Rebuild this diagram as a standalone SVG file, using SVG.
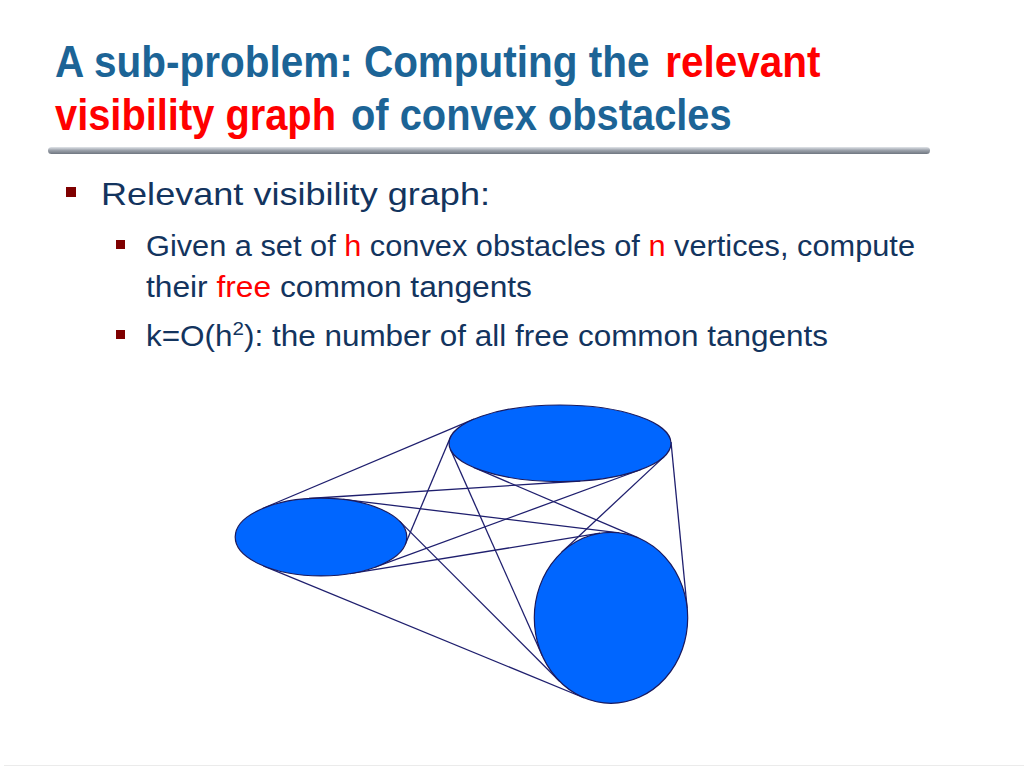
<svg xmlns="http://www.w3.org/2000/svg" width="1024" height="768" viewBox="0 0 1024 768">
<defs>
<linearGradient id="bar" x1="0" y1="0" x2="0" y2="1">
<stop offset="0" stop-color="#e2e5ea"/>
<stop offset="0.45" stop-color="#9ea4ad"/>
<stop offset="1" stop-color="#6f7680"/>
</linearGradient>
<style>
.title{font-family:"Liberation Sans",Arial,sans-serif;font-weight:bold;font-size:45px;fill:#1c6496}
.red{fill:#ff0000}
.body{font-family:"Liberation Sans",Arial,sans-serif;fill:#13345e}
.b1{font-size:32px}
.b2{font-size:29px}
.bul{fill:#7f0000}
.obst{fill:#0066ff;stroke:#1a1a5e;stroke-width:1.2}
.tan{stroke:#1f1f6e;stroke-width:1.3;fill:none}
</style>
</defs>
<rect width="1024" height="768" fill="#ffffff"/>
<g id="title">
<g transform="translate(55,77) scale(0.9,1)">
<text class="title" x="0" y="0">A sub-problem: Computing the</text>
<text class="title red" x="678" y="0">relevant</text>
</g>
<g transform="translate(55,130) scale(0.885,1)">
<text class="title red" x="0" y="0">visibility graph</text>
<text class="title" x="334.5" y="0">of convex obstacles</text>
</g>
</g>
<rect x="48" y="147" width="882" height="7" rx="3.5" fill="url(#bar)"/>
<g id="bullets">
<rect class="bul" x="66" y="187" width="10" height="10"/>
<text class="body b1" x="101" y="205" textLength="389" lengthAdjust="spacingAndGlyphs">Relevant visibility graph:</text>
<rect class="bul" x="116" y="240" width="9" height="9"/>
<text class="body b2" x="146" y="256" textLength="769" lengthAdjust="spacingAndGlyphs">Given a set of <tspan class="red">h</tspan> convex obstacles of <tspan class="red">n</tspan> vertices, compute</text>
<text class="body b2" x="146" y="297" textLength="386" lengthAdjust="spacingAndGlyphs">their <tspan class="red">free</tspan> common tangents</text>
<rect class="bul" x="116" y="330" width="9" height="9"/>
<text class="body b2" x="146" y="346" textLength="682" lengthAdjust="spacingAndGlyphs">k=O(h<tspan font-size="19" dy="-11">2</tspan><tspan dy="11">): the number of all free common tangents</tspan></text>
</g>
<g id="connectors">
<line class="tan" x1="262.5" y1="508.5" x2="474" y2="419.1"/>
<line class="tan" x1="405.3" y1="544.3" x2="450.2" y2="437.8"/>
<line class="tan" x1="309" y1="498.5" x2="580.3" y2="481"/>
<line class="tan" x1="375.1" y1="567.2" x2="641" y2="469.5"/>
<line class="tan" x1="343.1" y1="499.4" x2="619.3" y2="532.8"/>
<line class="tan" x1="263.3" y1="565.8" x2="584.4" y2="698"/>
<line class="tan" x1="399.2" y1="520.9" x2="559.8" y2="681.5"/>
<line class="tan" x1="349.9" y1="573.6" x2="600" y2="533.2"/>
<line class="tan" x1="671" y1="442" x2="687.2" y2="608.5"/>
<line class="tan" x1="450.3" y1="449.1" x2="542.3" y2="655.8"/>
<line class="tan" x1="473.7" y1="467.4" x2="638.4" y2="537.9"/>
<line class="tan" x1="664.1" y1="456.6" x2="561.7" y2="552.3"/>
</g>
<g id="obstacle-left"><ellipse class="obst" cx="321" cy="537" rx="85.8" ry="38.9"/></g>
<g id="obstacle-top"><ellipse class="obst" cx="560" cy="443.3" rx="111" ry="38.3"/></g>
<g id="obstacle-right"><ellipse class="obst" cx="611" cy="617.8" rx="76.7" ry="85.5"/></g>
<line x1="4" y1="765.5" x2="1024" y2="765.5" stroke="#ebebeb" stroke-width="1"/>
</svg>
